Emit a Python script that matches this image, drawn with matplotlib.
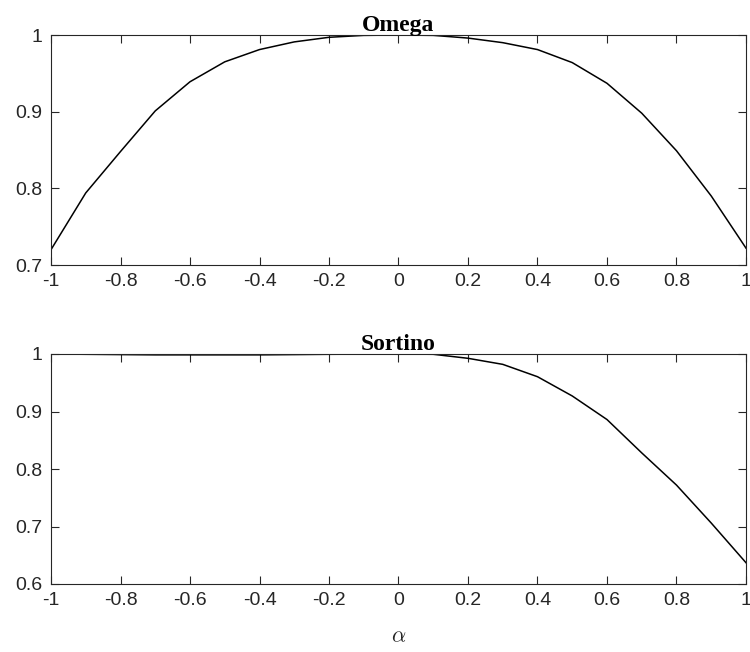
import matplotlib
matplotlib.use('Agg')
import matplotlib.pyplot as plt
import numpy as np

plt.rcParams['font.family'] = ['Liberation Sans', 'DejaVu Sans']
plt.rcParams['axes.unicode_minus'] = False
plt.rcParams['mathtext.fontset'] = 'cm'

# data
alpha = [-1.0, -0.9, -0.8, -0.7, -0.6, -0.5, -0.4, -0.3, -0.2, -0.1,
         0.0, 0.1, 0.2, 0.3, 0.4, 0.5, 0.6, 0.7, 0.8, 0.9, 1.0]
omega = [0.720, 0.794, 0.848, 0.901, 0.939, 0.965, 0.981, 0.991, 0.997, 0.9995,
         1.0, 0.9995, 0.996, 0.990, 0.981, 0.964, 0.937, 0.898, 0.849, 0.790, 0.722]
sortino = [1.0, 0.9995, 0.999, 0.9985, 0.9985, 0.9985, 0.9985, 0.999, 0.9995, 0.9998,
           1.0, 0.9995, 0.9925, 0.982, 0.9605, 0.927, 0.886, 0.828, 0.772, 0.706, 0.637]

xticks = [-1, -0.8, -0.6, -0.4, -0.2, 0, 0.2, 0.4, 0.6, 0.8, 1]
yticks_omega = [0.7, 0.8, 0.9, 1]
yticks_sortino = [0.6, 0.7, 0.8, 0.9, 1]

fig = plt.figure(figsize=(7.5, 6.52), dpi=100)
ax1 = fig.add_axes([51 / 750, 1 - 265 / 652, 695 / 750, 230 / 652])
ax2 = fig.add_axes([51 / 750, 1 - 584 / 652, 695 / 750, 230 / 652])

def style(ax, yt, title):
    ax.set_xlim(-1, 1)
    ax.set_ylim(yt[0], yt[-1])
    ax.set_xticks(xticks)
    ax.set_xticklabels(['{0:g}'.format(x) for x in xticks])
    ax.set_yticks(yt)
    ax.set_yticklabels(['{0:g}'.format(y) for y in yt])
    ax.tick_params(direction='in', top=True, right=True, length=6, width=0.8,
                   colors='#262626', labelsize=14, pad=6)
    for sp in ax.spines.values():
        sp.set_color('#262626')
        sp.set_linewidth(0.8)
    ax.set_title(title, fontsize=17, fontweight='bold',
                 family=['Liberation Serif', 'DejaVu Serif'], pad=3)

ax1.plot(alpha, omega, 'k-', lw=1.1)
style(ax1, yticks_omega, 'Omega')

ax2.plot(alpha, sortino, 'k-', lw=1.1)
style(ax2, yticks_sortino, 'Sortino')
ax2.set_xlabel(r'$\alpha$', fontsize=16, color='#262626', labelpad=12)

fig.savefig('out.png', dpi=100)
